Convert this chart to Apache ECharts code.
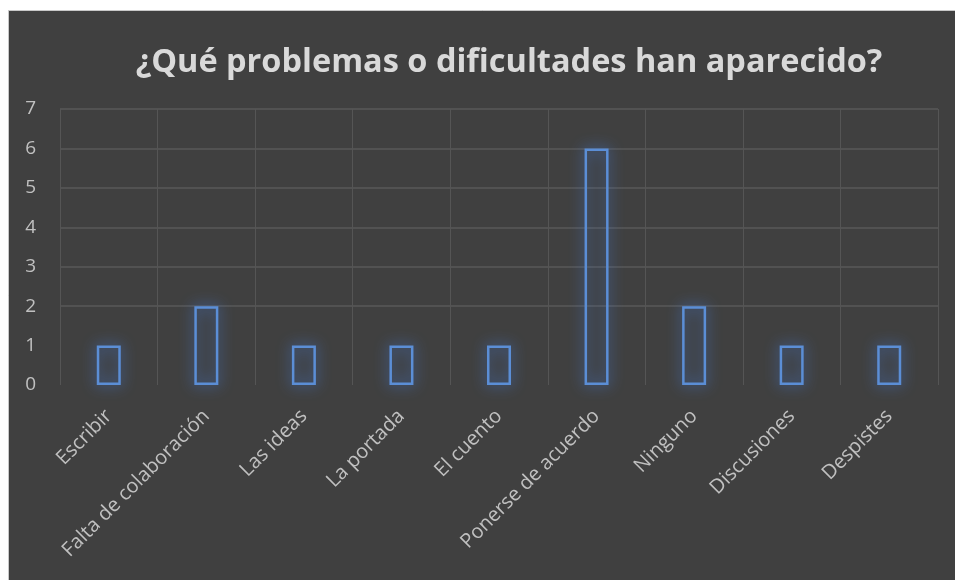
<!DOCTYPE html>
<html><head><meta charset="utf-8">
<script src="https://cdn.jsdelivr.net/npm/echarts@6/dist/echarts.min.js"></script>
<style>html,body{margin:0;padding:0;background:#fff;}#c{width:955px;height:580px;}</style>
</head><body><div id="c"></div>
<script>
const titleText = '¿Qué problemas o dificultades han aparecido?';
const categories = ['Escribir','Falta de colaboración','Las ideas','La portada','El cuento','Ponerse de acuerdo','Ninguno','Discusiones','Despistes'];
const values = [1,2,1,1,1,6,2,1,1];
const yTicks = [0,1,2,3,4,5,6,7];

const chart = echarts.init(document.getElementById('c'));
chart.setOption({
  backgroundColor: '#ffffff',
  animation: false,
  graphic: [{
    type: 'rect', z: -10, silent: true,
    shape: {x: 8.5, y: 10.5, width: 960, height: 580},
    style: {fill: '#404040', stroke: '#c8c8c8', lineWidth: 1}
  }],
  title: {
    text: titleText, left: 504, textAlign: 'center', top: 41,
    textStyle: {color: '#d9d9d9', fontFamily: 'Open Sans', fontWeight: 'bold', fontSize: 32.5}
  },
  grid: {left: 60, right: 17, top: 109, bottom: 195},
  xAxis: {
    type: 'category', data: categories,
    axisLine: {show: false}, axisTick: {show: false},
    splitLine: {show: true, interval: 0, lineStyle: {color: '#555555', width: 1}},
    axisLabel: {rotate: 45, interval: 0, color: '#c0c0c0', fontFamily: 'Open Sans', fontSize: 20, margin: 28}
  },
  yAxis: {
    type: 'value', min: 0, max: 7, interval: 1,
    axisLine: {show: false}, axisTick: {show: false},
    splitLine: {show: true, lineStyle: {color: ['transparent','transparent','#595959','#595959','#595959','#595959','#595959','#595959'], width: 1.5}},
    axisLabel: {color: '#c0c0c0', fontFamily: 'Open Sans', fontSize: 19, margin: 24, align: 'right',
      formatter: v => yTicks.includes(v) ? String(v) : ''}
  },
  series: [{
    type: 'bar', data: values, barWidth: 24,
    itemStyle: {color: 'rgba(64,64,64,0)', borderColor: '#5b8ed6', borderWidth: 2.5,
      shadowColor: 'rgba(70,130,230,1)', shadowBlur: 14}
  }]
});
</script></body></html>
